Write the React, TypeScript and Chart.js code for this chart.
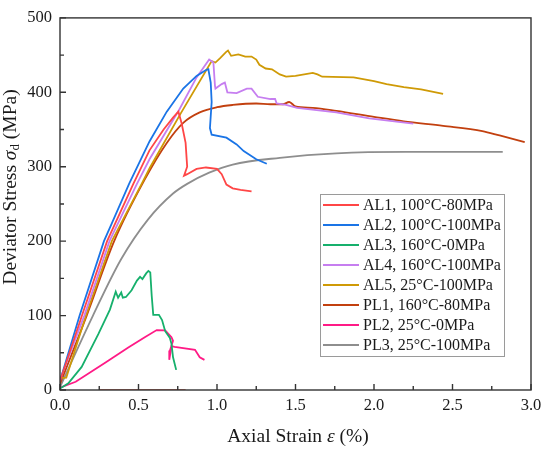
import { useEffect, useRef } from "react";
import { Chart, registerables } from "chart.js";

Chart.register(...registerables);

type Pt = [number, number];

const seriesNames = [
  "AL1, 100°C-80MPa",
  "AL2, 100°C-100MPa",
  "AL3, 160°C-0MPa",
  "AL4, 160°C-100MPa",
  "AL5, 25°C-100MPa",
  "PL1, 160°C-80MPa",
  "PL2, 25°C-0MPa",
  "PL3, 25°C-100MPa",
];

const seriesColors = [
  "#ff4646",
  "#1a74e6",
  "#16b06c",
  "#c67ef0",
  "#cf9a06",
  "#c2400f",
  "#ff1a86",
  "#8e8e8e",
];

// smooth curves (monotone interpolation) vs. raw polylines
const smoothSeries = [false, false, false, false, false, true, false, true];

const al1: Pt[] = [
  [0, 12], [0.14, 100], [0.3, 200], [0.467, 277], [0.57, 322], [0.66, 350],
  [0.72, 366], [0.754, 374], [0.775, 358], [0.8, 332], [0.81, 300], [0.79, 288],
  [0.81, 290], [0.87, 297], [0.93, 299], [1.0, 297], [1.03, 290], [1.06, 276],
  [1.1, 271], [1.15, 269], [1.22, 267],
];

const al2: Pt[] = [
  [0, 12], [0.125, 100], [0.28, 200], [0.33, 224], [0.44, 277], [0.57, 334],
  [0.68, 374], [0.785, 405], [0.87, 422], [0.93, 430], [0.945, 431], [0.96, 413],
  [0.966, 387], [0.955, 352], [0.966, 343], [1.06, 339], [1.125, 330], [1.17, 321],
  [1.25, 310], [1.317, 304],
];

const al3: Pt[] = [
  [0, 2], [0.053, 9], [0.138, 31], [0.244, 75], [0.318, 108], [0.355, 132],
  [0.37, 124], [0.39, 131], [0.4, 124], [0.42, 125], [0.456, 134], [0.49, 147],
  [0.51, 152], [0.525, 149], [0.55, 157], [0.563, 160], [0.575, 158], [0.584, 127],
  [0.594, 101], [0.63, 101], [0.65, 94], [0.67, 79], [0.7, 70], [0.71, 62],
  [0.72, 44], [0.74, 27],
];

const al4: Pt[] = [
  [0, 14], [0.155, 100], [0.315, 200], [0.49, 277], [0.57, 310], [0.76, 377],
  [0.87, 420], [0.95, 444], [0.977, 440], [0.987, 409], [0.99, 405], [1.03, 411],
  [1.05, 413], [1.066, 400], [1.125, 399], [1.19, 405], [1.22, 405], [1.26, 394],
  [1.34, 391], [1.37, 391], [1.38, 385], [1.44, 383], [1.51, 379], [1.76, 373],
  [1.97, 365], [2.25, 358],
];

const al5: Pt[] = [
  [0, 16], [0.04, 16.5], [0.165, 100], [0.33, 200], [0.52, 277], [0.573, 299],
  [0.77, 372], [0.966, 442], [0.99, 440], [1.02, 446], [1.057, 454], [1.07, 456],
  [1.09, 449], [1.136, 451], [1.18, 448], [1.22, 448], [1.25, 444], [1.27, 437],
  [1.31, 432], [1.35, 431], [1.4, 424], [1.44, 421], [1.5, 422], [1.61, 426],
  [1.64, 424], [1.67, 421], [1.87, 420], [2.0, 415], [2.08, 411], [2.19, 407],
  [2.3, 404], [2.44, 398],
];

const pl1: Pt[] = [
  [0, 8], [0.17, 100], [0.345, 200], [0.54, 283], [0.68, 332], [0.785, 359],
  [0.89, 373], [1.0, 380], [1.1, 383], [1.25, 385], [1.34, 384], [1.42, 384],
  [1.46, 387], [1.5, 381], [1.61, 379], [1.76, 375], [2.0, 367], [2.19, 361],
  [2.44, 355], [2.69, 348], [2.8, 342], [2.96, 333],
];

const pl2: Pt[] = [
  [0, 3], [0.1, 11], [0.29, 37], [0.435, 57], [0.54, 71], [0.616, 80.5],
  [0.67, 80], [0.71, 71], [0.72, 66], [0.7, 53], [0.696, 40.5], [0.71, 59],
  [0.73, 58], [0.86, 54], [0.89, 44], [0.92, 40.5],
];

const pl3: Pt[] = [
  [0, 4], [0.21, 100], [0.39, 176], [0.56, 229], [0.72, 264],
  [0.81, 277], [0.95, 292], [1.1, 303], [1.4, 312], [1.76, 318], [2.2, 320],
  [2.82, 320],
];

// faint trace lying on the x axis
const baseTrace: Pt[] = [[0.25, 0], [0.8, 0]];

const allSeries = [al1, al2, al3, al4, al5, pl1, pl2, pl3];

const xTickLabels = ["0.0", "0.5", "1.0", "1.5", "2.0", "2.5", "3.0"];
const yTickLabels = ["0", "100", "200", "300", "400", "500"];

const serif = "'Liberation Serif', 'DejaVu Serif', serif";

type Seg = { t: string; font: string; dy?: number };

function drawSegs(ctx: CanvasRenderingContext2D, segs: Seg[], cx: number, cy: number) {
  let total = 0;
  for (const s of segs) {
    ctx.font = s.font;
    total += ctx.measureText(s.t).width;
  }
  let x = cx - total / 2;
  for (const s of segs) {
    ctx.font = s.font;
    ctx.fillText(s.t, x, cy + (s.dy || 0));
    x += ctx.measureText(s.t).width;
  }
}

const framePlugin = {
  id: "frame",
  afterDraw(chart: any) {
    const { ctx, chartArea: a, scales } = chart;
    const xs = scales.x;
    const ys = scales.y;
    ctx.save();
    ctx.strokeStyle = "#333";
    ctx.lineWidth = 1.4;
    ctx.strokeRect(a.left, a.top, a.right - a.left, a.bottom - a.top);

    // inward ticks
    ctx.beginPath();
    for (let v = 0; v <= 3.0001; v += 0.25) {
      const px = xs.getPixelForValue(v);
      const major = Math.abs(v * 2 - Math.round(v * 2)) < 1e-6;
      ctx.moveTo(px, a.bottom);
      ctx.lineTo(px, a.bottom - (major ? 6 : 4));
    }
    for (let v = 0; v <= 500; v += 50) {
      const py = ys.getPixelForValue(v);
      const major = v % 100 === 0;
      ctx.moveTo(a.left, py);
      ctx.lineTo(a.left + (major ? 6 : 4), py);
    }
    ctx.stroke();

    // axis titles
    ctx.fillStyle = "#1a1a1a";
    ctx.textBaseline = "middle";
    ctx.textAlign = "left";
    drawSegs(
      ctx,
      [
        { t: "Axial Strain ", font: `19.5px ${serif}` },
        { t: "ε", font: `italic 19.5px ${serif}` },
        { t: " (%)", font: `19.5px ${serif}` },
      ],
      298,
      437
    );
    ctx.save();
    ctx.translate(11, 187);
    ctx.rotate(-Math.PI / 2);
    drawSegs(
      ctx,
      [
        { t: "Deviator Stress ", font: `19.5px ${serif}` },
        { t: "σ", font: `italic 19.5px ${serif}` },
        { t: "d", font: `13px ${serif}`, dy: 5 },
        { t: " (MPa)", font: `19.5px ${serif}` },
      ],
      0,
      0
    );
    ctx.restore();

    // legend
    const lx = 320;
    const ly = 194;
    const lw = 184;
    const lh = 162;
    ctx.fillStyle = "#fff";
    ctx.fillRect(lx, ly, lw, lh);
    ctx.strokeStyle = "#9a9a9a";
    ctx.lineWidth = 1;
    ctx.strokeRect(lx + 0.5, ly + 0.5, lw, lh);
    ctx.font = `16px ${serif}`;
    seriesNames.forEach((name, i) => {
      const y = ly + 11 + i * 20;
      ctx.strokeStyle = seriesColors[i];
      ctx.lineWidth = 2;
      ctx.beginPath();
      ctx.moveTo(lx + 3, y);
      ctx.lineTo(lx + 39, y);
      ctx.stroke();
      ctx.fillStyle = "#1a1a1a";
      ctx.fillText(name, lx + 43, y + 1);
    });
    ctx.restore();
  },
};

export default function App() {
  const canvasRef = useRef<HTMLCanvasElement>(null);
  const chartRef = useRef<Chart | null>(null);

  useEffect(() => {
    document.body.style.margin = "0";
    if (!canvasRef.current) return;

    const datasets: any[] = allSeries.map((pts, i) => ({
      label: seriesNames[i],
      data: pts.map(([x, y]) => ({ x, y })),
      borderColor: seriesColors[i],
      borderWidth: 1.8,
      pointRadius: 0,
      tension: 0,
      cubicInterpolationMode: smoothSeries[i] ? "monotone" : "default",
      fill: false,
    }));
    datasets.unshift({
      label: "",
      data: baseTrace.map(([x, y]) => ({ x, y })),
      borderColor: "#c24a3a",
      borderWidth: 1.5,
      pointRadius: 0,
      fill: false,
    });

    chartRef.current?.destroy();
    chartRef.current = new Chart(canvasRef.current, {
      type: "line",
      data: { datasets },
      options: {
        animation: false,
        responsive: false,
        layout: { padding: { left: 0, right: 19, top: 12, bottom: 0 } },
        plugins: {
          legend: { display: false },
          tooltip: { enabled: false },
        },
        scales: {
          x: {
            type: "linear",
            min: 0,
            max: 3,
            grid: { display: false, drawTicks: false },
            border: { display: false },
            afterFit: (s: any) => {
              s.height = 61;
            },
            afterBuildTicks: (s: any) => {
              s.ticks = xTickLabels.map((l) => ({ value: parseFloat(l) }));
            },
            ticks: {
              padding: 6,
              color: "#1a1a1a",
              font: { family: serif, size: 16.5 },
              maxRotation: 0,
              callback: (v: any) => xTickLabels.find((l) => parseFloat(l) === v) ?? "",
            },
          },
          y: {
            type: "linear",
            min: 0,
            max: 500,
            grid: { display: false, drawTicks: false },
            border: { display: false },
            afterFit: (s: any) => {
              s.width = 60;
            },
            afterBuildTicks: (s: any) => {
              s.ticks = yTickLabels.map((l) => ({ value: parseFloat(l) }));
            },
            ticks: {
              padding: 8,
              color: "#1a1a1a",
              font: { family: serif, size: 16.5 },
              callback: (v: any) => yTickLabels.find((l) => parseFloat(l) === v) ?? "",
            },
          },
        },
      },
      plugins: [framePlugin],
    });

    return () => {
      chartRef.current?.destroy();
      chartRef.current = null;
    };
  }, []);

  return (
    <div style={{ width: 550, height: 451, background: "#fff" }}>
      <canvas ref={canvasRef} width={550} height={451} />
    </div>
  );
}
